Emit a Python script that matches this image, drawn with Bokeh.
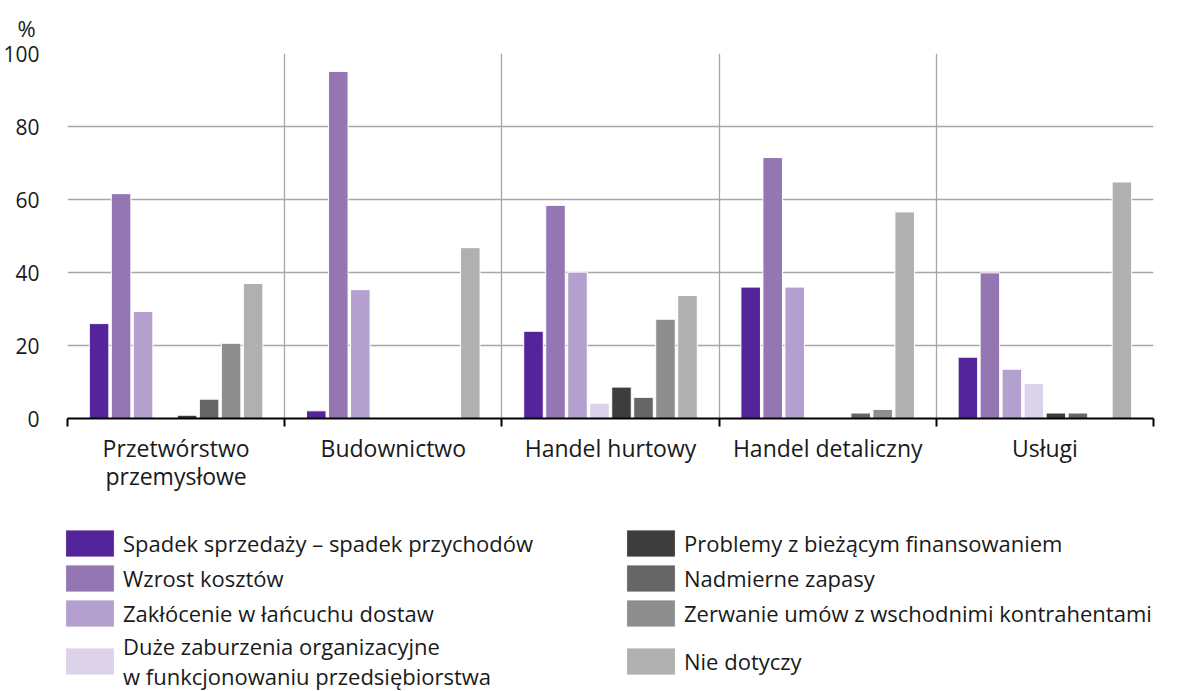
import numpy as np
from bokeh.plotting import figure
from bokeh.models import (ColumnDataSource, Range1d, FixedTicker, Legend, LegendItem)
from bokeh.embed import file_html
from bokeh.resources import INLINE

# ---- data ----
categories = ["Przetwórstwo\nprzemysłowe", "Budownictwo", "Handel hurtowy",
              "Handel detaliczny", "Usługi"]

series_names = [
    "Spadek sprzedaży – spadek przychodów",
    "Wzrost kosztów",
    "Zakłócenie w łańcuchu dostaw",
    "Duże zaburzenia organizacyjne\nw funkcjonowaniu przedsiębiorstwa",
    "Problemy z bieżącym finansowaniem",
    "Nadmierne zapasy",
    "Zerwanie umów z wschodnimi kontrahentami",
    "Nie dotyczy",
]

spadek_sprzedazy = [26.0, 2.1, 23.9, 36.0, 16.8]
wzrost_kosztow = [61.6, 95.1, 58.4, 71.5, 39.9]
zaklocenie_lancucha = [29.3, 35.3, 40.1, 36.0, 13.5]
zaburzenia_org = [0.0, 0.0, 4.2, 0.0, 9.6]
problemy_finans = [0.9, 0.0, 8.6, 0.0, 1.5]
nadmierne_zapasy = [5.3, 0.0, 5.8, 1.5, 1.5]
zerwanie_umow = [20.6, 0.0, 27.2, 2.5, 0.0]
nie_dotyczy = [37.0, 46.8, 33.7, 56.6, 64.8]

series_values = [spadek_sprzedazy, wzrost_kosztow, zaklocenie_lancucha, zaburzenia_org,
                 problemy_finans, nadmierne_zapasy, zerwanie_umow, nie_dotyczy]

colors = ["#54249a", "#9476b3", "#b3a0ce", "#dcd2ea",
          "#3d3d3d", "#666666", "#8e8e8e", "#b0b0b0"]

y_ticks = [0, 20, 40, 60, 80, 100]

FONT = "Open Sans"
TXT = "#1a1a1a"
W = 1189

p = figure(width=W, height=500, output_backend="svg", toolbar_location=None,
           x_range=Range1d(0, len(categories)), y_range=Range1d(0, 100),
           min_border_left=67, min_border_right=36, min_border_top=52,
           min_border_bottom=82)
p.outline_line_color = None
p.background_fill_color = "white"
p.border_fill_color = "white"

# title "%"
p.title.text = "%"
p.title.align = "left"
p.title.offset = -50
p.title.standoff = 21
p.title.text_font = FONT
p.title.text_font_size = "22px"
p.title.text_font_style = "normal"
p.title.text_color = TXT

centers = np.arange(len(categories)) + 0.5
boundaries = list(range(len(categories) + 1))

# grids
p.ygrid.ticker = FixedTicker(ticks=y_ticks)
p.ygrid.grid_line_color = "#a6a6a6"
p.ygrid.grid_line_width = 1.3
p.xgrid.ticker = FixedTicker(ticks=boundaries)
p.xgrid.grid_line_color = "#a6a6a6"
p.xgrid.grid_line_width = 1.3

# y axis
p.yaxis.ticker = FixedTicker(ticks=y_ticks)
p.yaxis.axis_line_color = None
p.yaxis.major_tick_line_color = None
p.yaxis.minor_tick_line_color = None
p.yaxis.major_label_standoff = 22
p.yaxis.major_label_text_font = FONT
p.yaxis.major_label_text_font_size = "21px"
p.yaxis.major_label_text_color = TXT

# x axis
p.xaxis.ticker = FixedTicker(ticks=list(centers), minor_ticks=boundaries)
p.xaxis.major_label_overrides = {float(c): lab for c, lab in zip(centers, categories)}
p.xaxis.major_tick_line_color = None
p.xaxis.minor_tick_line_color = "black"
p.xaxis.minor_tick_line_width = 2
p.xaxis.minor_tick_in = 0
p.xaxis.minor_tick_out = 8
p.xaxis.axis_line_color = "black"
p.xaxis.axis_line_width = 2
p.xaxis.major_label_standoff = 5
p.xaxis.major_label_text_font = FONT
p.xaxis.major_label_text_font_size = "23px"
p.xaxis.major_label_text_color = TXT
p.xaxis.major_label_text_line_height = 0.88

# bars
n = len(series_names)
pitch = 0.1013
bar_w = 0.09
sources = []
for i, (vals, col) in enumerate(zip(series_values, colors)):
    src = ColumnDataSource(dict(x=centers + (i - (n - 1) / 2) * pitch, top=vals))
    p.vbar(x="x", top="top", width=bar_w, bottom=0, source=src,
           fill_color=col, line_color="white", line_width=1)
    sources.append(src)

# ---- legend (separate panel below the chart) ----
leg = figure(width=W, height=191, output_backend="svg", toolbar_location=None,
             x_axis_type=None, y_axis_type=None,
             x_range=Range1d(0, 1), y_range=Range1d(0, 1),
             min_border_left=33, min_border_right=0, min_border_top=0, min_border_bottom=0)
leg.outline_line_color = None
leg.grid.visible = False
items = []
for name, col, src in zip(series_names, colors, sources):
    r = leg.vbar(x="x", top="top", width=bar_w, source=src, fill_color=col,
                 line_color="white", line_width=1, visible=False)
    items.append(LegendItem(label=name, renderers=[r]))

legend = Legend(items=items, ncols=2, orientation="vertical", location="top_left",
                glyph_width=61, glyph_height=34, label_standoff=3, spacing=1,
                label_width=496, padding=0, margin=26,
                border_line_color=None, background_fill_alpha=0,
                inactive_fill_alpha=0,
                label_text_font=FONT, label_text_font_size="22px",
                label_text_color=TXT, label_text_line_height=1.0)
leg.add_layout(legend, "center")

open("out.html", "w").write(file_html([p, leg], INLINE))
